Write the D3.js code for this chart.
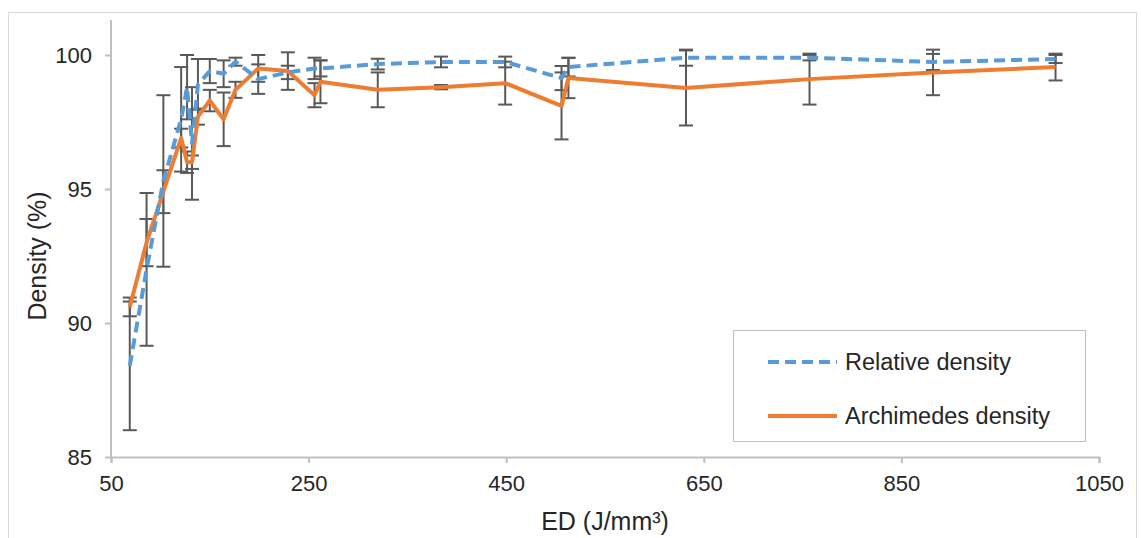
<!DOCTYPE html>
<html>
<head>
<meta charset="utf-8">
<script src="https://cdn.jsdelivr.net/npm/d3@7"></script>
<style>
  body { margin: 0; background: #fff; }
  text { font-family: "Liberation Sans", Arial, sans-serif; fill: #262626; }
</style>
</head>
<body>
<svg id="chart" width="1141" height="538"></svg>
<script>
// energy density values (J/mm3)
var ed = [69, 86, 103, 121, 127, 132, 138, 150, 164, 176, 199, 229, 256, 262, 320, 384, 449, 506, 513, 632, 757, 882, 1006];
// relative density (%) and its error
var relDensity = [88.4, 92.0, 95.3, 97.6, 98.8, 96.7, 98.9, 99.4, 99.3, 99.75, 99.1, 99.35, 99.5, 99.5, 99.66, 99.74, 99.74, 99.14, 99.55, 99.9, 99.9, 99.74, 99.85];
var relErr = [2.4, 2.85, 3.2, 1.95, 1.2, 2.1, 0.95, 0.45, 0.5, 0.15, 0.55, 0.25, 0.4, 0.3, 0.2, 0.2, 0.2, 0.45, 0.35, 0.3, 0.1, 0.3, 0.15];
// archimedes density (%) and its error
var archDensity = [90.6, 93.0, 94.9, 96.9, 96.0, 96.0, 97.7, 98.3, 97.6, 98.7, 99.5, 99.4, 98.5, 99.0, 98.7, 98.8, 98.95, 98.1, 99.14, 98.77, 99.1, 99.35, 99.55];
var archErr = [0.35, 0.88, 0.8, 0.35, 0.4, 0.25, 0.3, 0.4, 1.0, 0.3, 0.5, 0.7, 0.45, 0.8, 0.65, 0.08, 0.8, 1.25, 0.75, 1.4, 0.95, 0.85, 0.5];

var xTicks = [50, 250, 450, 650, 850, 1050];
var yTicks = [85, 90, 95, 100];

var svg = d3.select("#chart");

var margin = {left: 111, right: 1099, top: 55, bottom: 457};

var xScale = d3.scaleLinear().domain([50, 1050]).range([margin.left, margin.right]);
var yScale = d3.scaleLinear().domain([85, 100]).range([margin.bottom, margin.top]);

//outer frame
svg.append("rect")
	.attr("x", 8.5).attr("y", 12.5)
	.attr("width", 1128).attr("height", 540)
	.attr("fill", "none").attr("stroke", "#d9d9d9");

//Axes
var xAxis = d3.axisBottom(xScale).tickValues(xTicks).tickFormat(d3.format("d")).tickSize(6).tickPadding(12);
var yAxis = d3.axisLeft(yScale).tickValues(yTicks).tickSize(6).tickPadding(13);

var gx = svg.append("g")
	.attr("transform", "translate(0," + margin.bottom + ")")
	.call(xAxis);
var gy = svg.append("g")
	.attr("transform", "translate(" + margin.left + ",0)")
	.call(yAxis);

// y axis line runs a bit above 100 like the original
gy.select(".domain").remove();
gy.append("line")
	.attr("x1", 0).attr("x2", 0)
	.attr("y1", 20).attr("y2", margin.bottom)
	.attr("stroke", "#bfbfbf").attr("stroke-width", 2);
gx.select(".domain").attr("stroke", "#bfbfbf").attr("stroke-width", 2);

[gx, gy].forEach(function(g) {
	g.selectAll(".tick line").attr("stroke", "#bfbfbf").attr("stroke-width", 2);
	g.selectAll(".tick text")
		.style("font-family", "'Liberation Sans', Arial, sans-serif")
		.style("font-size", "22px")
		.attr("fill", "#262626");
});

//Axis titles
svg.append("text")
	.attr("x", (margin.left + margin.right) / 2)
	.attr("y", 530)
	.attr("text-anchor", "middle")
	.style("font-size", "25px")
	.text("ED (J/mm³)");

svg.append("text")
	.attr("transform", "translate(46," + (margin.top + margin.bottom) / 2 + ") rotate(-90)")
	.attr("text-anchor", "middle")
	.style("font-size", "25px")
	.text("Density (%)");

//Build the series
var relData = ed.map(function(d, i) { return {x: d, y: relDensity[i], e: relErr[i]}; });
var archData = ed.map(function(d, i) { return {x: d, y: archDensity[i], e: archErr[i]}; });

var line = d3.line()
	.x(function(d) { return xScale(d.x); })
	.y(function(d) { return yScale(d.y); });

//Error bars first so lines sit on top
function drawErrors(data, cls) {
	var g = svg.append("g").attr("class", cls);
	var bars = g.selectAll("g").data(data).enter().append("g")
		.attr("stroke", "#595959").attr("stroke-width", 2);
	bars.append("line")
		.attr("x1", function(d) { return xScale(d.x); })
		.attr("x2", function(d) { return xScale(d.x); })
		.attr("y1", function(d) { return yScale(d.y - d.e); })
		.attr("y2", function(d) { return yScale(d.y + d.e); });
	[-1, 1].forEach(function(s) {
		bars.append("line")
			.attr("x1", function(d) { return xScale(d.x) - 7; })
			.attr("x2", function(d) { return xScale(d.x) + 7; })
			.attr("y1", function(d) { return yScale(d.y + s * d.e); })
			.attr("y2", function(d) { return yScale(d.y + s * d.e); });
	});
}
drawErrors(relData, "err-rel");
drawErrors(archData, "err-arch");

//Lines
svg.append("path")
	.datum(archData)
	.attr("d", line)
	.attr("fill", "none")
	.attr("stroke", "#ed7d31")
	.attr("stroke-width", 4)
	.attr("stroke-linejoin", "round");

svg.append("path")
	.datum(relData)
	.attr("d", line)
	.attr("fill", "none")
	.attr("stroke", "#5b9bd5")
	.attr("stroke-width", 4)
	.attr("stroke-dasharray", "11,6")
	.attr("stroke-linejoin", "round");

//Legend
var legend = svg.append("g");
legend.append("rect")
	.attr("x", 733.5).attr("y", 330.5)
	.attr("width", 352).attr("height", 111)
	.attr("fill", "#fff").attr("stroke", "#bfbfbf");

var legendItems = [
	{name: "Relative density", color: "#5b9bd5", dash: "11,6", y: 362},
	{name: "Archimedes density", color: "#ed7d31", dash: null, y: 416}
];

legendItems.forEach(function(item) {
	legend.append("line")
		.attr("x1", 768).attr("x2", 837)
		.attr("y1", item.y).attr("y2", item.y)
		.attr("stroke", item.color).attr("stroke-width", 4)
		.attr("stroke-dasharray", item.dash);
	legend.append("text")
		.attr("x", 845).attr("y", item.y + 8)
		.style("font-size", "23.5px")
		.text(item.name);
});
</script>
</body>
</html>
